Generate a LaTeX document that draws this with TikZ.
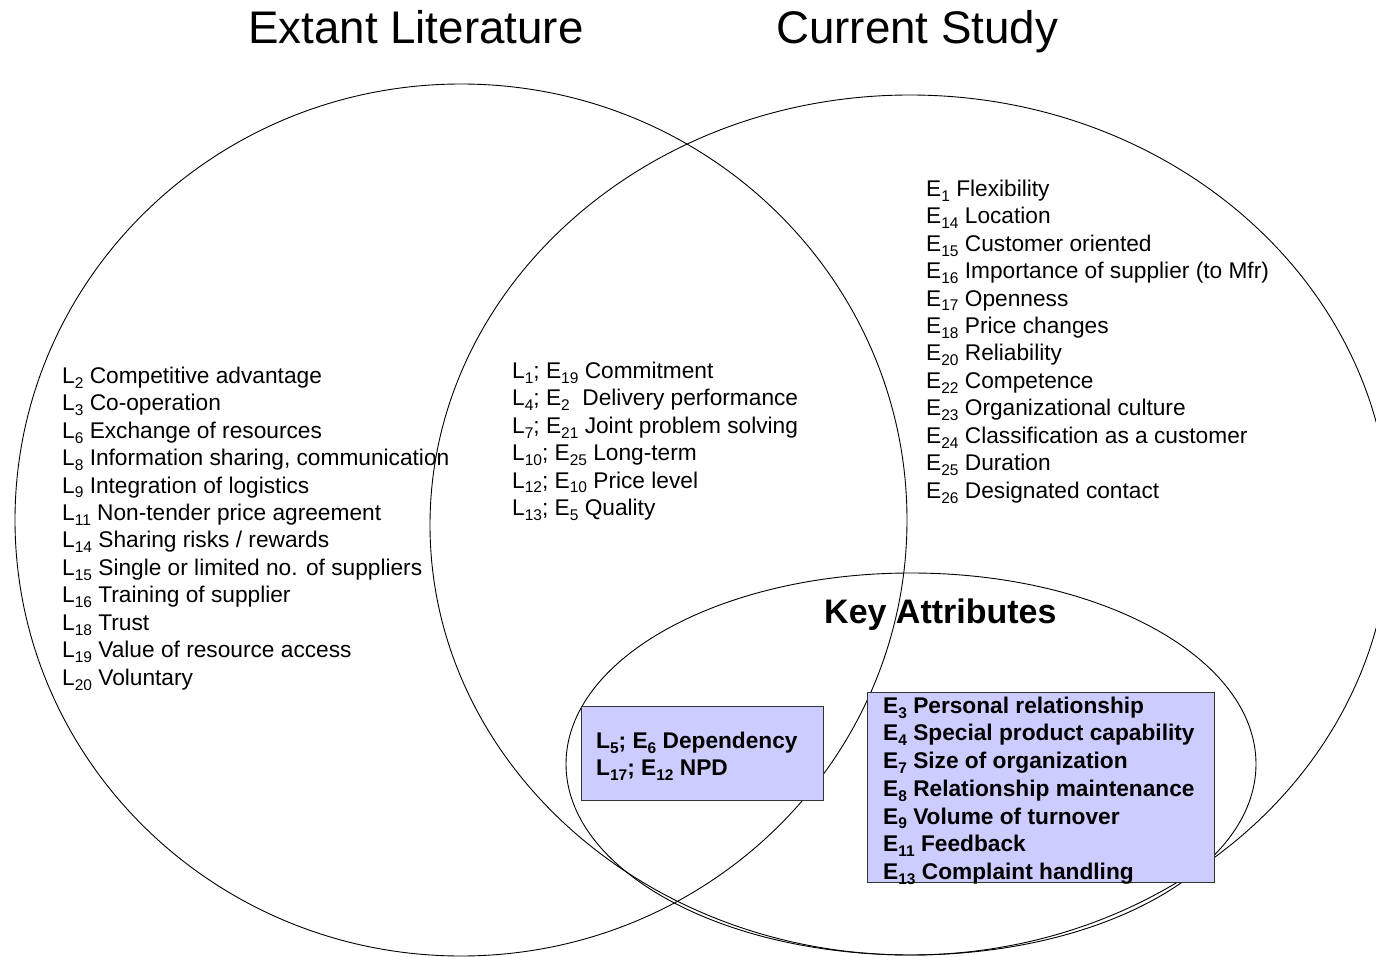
\documentclass[tikz,border=0pt]{standalone}
\usepackage{fontspec}
\setmainfont{Liberation Sans}
\usetikzlibrary{shapes.geometric}
\definecolor{kafill}{HTML}{CCCCFF}
\definecolor{kaline}{HTML}{333333}
\newcommand\sbs[1]{\raisebox{-0.22em}{\fontsize{15.5}{15.5}\selectfont #1}}
\newcommand\fs{\rule{0pt}{17pt}}
\tikzset{
  venn/.style={ellipse, draw=black, line width=0.9pt, inner sep=0pt},
  kabox/.style={rectangle, draw=kaline, fill=kafill, line width=1.3pt, inner sep=0pt, anchor=north west},
  listtext/.style={anchor=north west, inner sep=0pt, align=left, font=\fontsize{22.7}{27.45}\selectfont},
  boldlist/.style={anchor=north west, inner sep=0pt, align=left, font=\fontsize{22.7}{27.7}\selectfont\bfseries},
  title/.style={anchor=base west, inner sep=0pt, font=\fontsize{45.7}{50}\selectfont}
}
\begin{document}
\begin{tikzpicture}[x=1pt,y=-1pt]
\useasboundingbox (0,0) rectangle (1376,957);
\clip (0,0) rectangle (1376,957);
\fill[white] (0,0) rectangle (1376,957);

\node[venn, minimum width=892pt, minimum height=872pt] (lit) at (461,520) {};
\node[venn, minimum width=960pt, minimum height=860pt] (cur) at (910,525) {};
\node[venn, minimum width=690pt, minimum height=382pt] (key) at (911,764) {};

\node[title] (tlit) at (248,44) {Extant Literature};
\node[title] (tcur) at (776,44) {Current Study};

\node[listtext] (litlist) at (62,366) {\fs L\sbs{2} Competitive advantage\\
L\sbs{3} Co-operation\\
L\sbs{6} Exchange of resources\\
L\sbs{8} Information sharing, communication\\
L\sbs{9} Integration of logistics\\
L\sbs{11} Non-tender price agreement\\
L\sbs{14} Sharing risks / rewards\\
L\sbs{15} Single or limited no. of suppliers\\
L\sbs{16} Training of supplier\\
L\sbs{18} Trust\\
L\sbs{19} Value of resource access\\
L\sbs{20} Voluntary};

\node[listtext] (bothlist) at (512,361) {\fs L\sbs{1}; E\sbs{19} Commitment\\
L\sbs{4}; E\sbs{2}\ \ Delivery performance\\
L\sbs{7}; E\sbs{21} Joint problem solving\\
L\sbs{10}; E\sbs{25} Long-term\\
L\sbs{12}; E\sbs{10} Price level\\
L\sbs{13}; E\sbs{5} Quality};

\node[listtext] (curlist) at (926,179) {\fs E\sbs{1} Flexibility\\
E\sbs{14} Location\\
E\sbs{15} Customer oriented\\
E\sbs{16} Importance of supplier (to Mfr)\\
E\sbs{17} Openness\\
E\sbs{18} Price changes\\
E\sbs{20} Reliability\\
E\sbs{22} Competence\\
E\sbs{23} Organizational culture\\
E\sbs{24} Classification as a customer\\
E\sbs{25} Duration\\
E\sbs{26} Designated contact};

\node[anchor=base west, inner sep=0pt, font=\fontsize{34}{40}\selectfont\bfseries] (katitle) at (824,623) {Key Attributes};

\node[kabox, minimum width=242pt, minimum height=94pt] (boxA) at (581,706) {};
\node[kabox, minimum width=347pt, minimum height=190pt] (boxB) at (867,692) {};

\node[boldlist] (boxAtext) at (596,731) {\fs L\sbs{5}; E\sbs{6} Dependency\\
L\sbs{17}; E\sbs{12} NPD};

\node[boldlist] (boxBtext) at (883,696) {\fs E\sbs{3} Personal relationship\\
E\sbs{4} Special product capability\\
E\sbs{7} Size of organization\\
E\sbs{8} Relationship maintenance\\
E\sbs{9} Volume of turnover\\
E\sbs{11} Feedback\\
E\sbs{13} Complaint handling};
\end{tikzpicture}
\end{document}
